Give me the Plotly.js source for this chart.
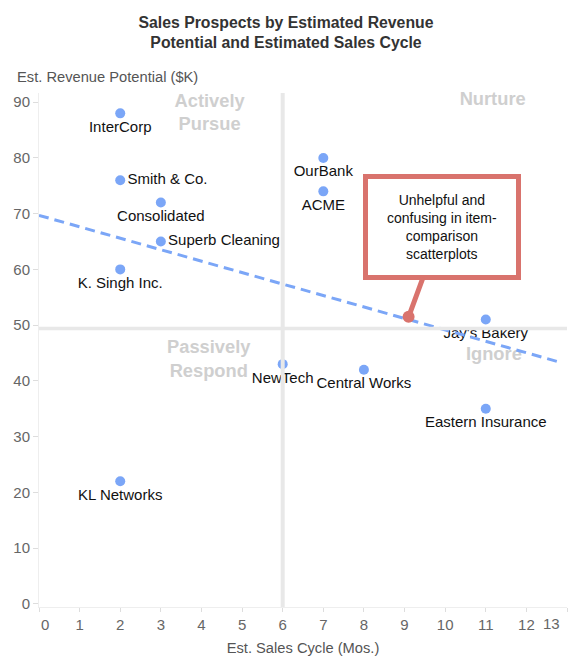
<!DOCTYPE html>
<html>
<head>
<meta charset="utf-8">
<script src="https://cdn.plot.ly/plotly-3.0.1.min.js"></script>
<style>
  html, body { margin: 0; padding: 0; background: #fff; }
  #chart { width: 572px; height: 657px; }
</style>
</head>
<body>
<div id="chart"></div>
<script>
// ---- Data ----
const prospects = ['InterCorp', 'Smith & Co.', 'Consolidated', 'Superb Cleaning', 'K. Singh Inc.', 'KL Networks',
                   'OurBank', 'ACME', 'NewTech', 'Central Works', "Jay's Bakery", 'Eastern Insurance'];
const salesCycle = [2, 2, 3, 3, 2, 2, 7, 7, 6, 8, 11, 11];
const revenuePotential = [88, 76, 72, 65, 60, 22, 80, 74, 43, 42, 51, 35];
const labelPositions = ['bottom center', 'middle right', 'bottom center', 'middle right', 'bottom center', 'bottom center',
                        'bottom center', 'bottom center', 'bottom center', 'bottom center', 'bottom center', 'bottom center'];

const trendX = [0, 12.75];
const trendY = [69.7, 43.5];

const quadrantLabels = ['Actively<br>Pursue', 'Nurture', 'Passively<br>Respond', 'Ignore'];
const quadrantLabelX = [4.2, 11.17, 4.18, 11.2];
const quadrantLabelY = [87.9, 90.4, 43.7, 44.6];

const splitX = 6;
const splitY = 49.4;

const xTicks = [0, 1, 2, 3, 4, 5, 6, 7, 8, 9, 10, 11, 12, 13];
const xTickLabels = ['0', '1', '2', '3', '4', '5', '6', '7', '8', '9', '10', '11', '12', '13'];
const yTicks = [0, 10, 20, 30, 40, 50, 60, 70, 80, 90];

const calloutText = 'Unhelpful and<br>confusing in item-<br>comparison<br>scatterplots';
const calloutPoint = [9.1, 51.5];

// ---- Styles ----
const FONT = 'Liberation Sans, Arial, sans-serif';
const BLUE = '#7ba6f7';
const GRID = '#e8e8e8';
const RED = '#d9736d';
const TICKFONT = { family: FONT, size: 15, color: '#666' };

// first label nudged right, last label drawn separately so it stays inside the chart (as in the original)
const lastIdx = xTicks.length - 1;
const axisTickText = xTickLabels.map((t, i) => i === 0 ? '\u00a0\u00a0\u00a0' + t : (i === lastIdx ? '' : t));

const traces = [
  {
    type: 'scatter', mode: 'text',
    x: quadrantLabelX, y: quadrantLabelY, text: quadrantLabels,
    textfont: { family: FONT, size: 18.3, color: '#cfcfcf', weight: 'bold' },
    textposition: 'middle center',
    hoverinfo: 'skip', showlegend: false, cliponaxis: false
  },
  {
    type: 'scatter', mode: 'markers+text',
    x: salesCycle, y: revenuePotential, text: prospects,
    textposition: labelPositions,
    textfont: { family: FONT, size: 15, color: '#111' },
    marker: { size: 10, color: BLUE },
    showlegend: false, cliponaxis: false
  },
  {
    type: 'scatter', mode: 'lines',
    x: trendX, y: trendY,
    line: { color: BLUE, width: 3, dash: '10px,6px' },
    hoverinfo: 'skip', showlegend: false
  }
];

const layout = {
  width: 572, height: 657,
  margin: { l: 39, r: 5, t: 93, b: 50 },
  paper_bgcolor: '#fff', plot_bgcolor: '#fff',
  font: { family: FONT, size: 14, color: '#555' },
  showlegend: false,
  title: {
    text: '<b>Sales Prospects by Estimated Revenue<br>Potential and Estimated Sales Cycle</b>',
    font: { family: FONT, size: 15.8, color: '#333' },
    x: 0.5, xref: 'container', xanchor: 'center',
    y: 0.958, yref: 'container', yanchor: 'middle'
  },
  xaxis: {
    range: [0, 13], tickvals: xTicks, ticktext: axisTickText,
    showgrid: false, zeroline: false,
    showline: true, linecolor: '#eeeeee', linewidth: 1,
    ticks: 'outside', ticklen: 4, tickcolor: '#dddddd',
    tickfont: TICKFONT,
    title: { text: 'Est. Sales Cycle (Mos.)', font: { family: FONT, size: 14.7, color: '#555' }, standoff: 10 }
  },
  yaxis: {
    range: [-0.57, 91.65], tickvals: yTicks,
    showgrid: false, zeroline: false,
    showline: true, linecolor: '#eeeeee', linewidth: 1,
    ticks: 'outside', ticklen: 5, tickcolor: '#dddddd',
    tickfont: TICKFONT
  },
  shapes: [
    { type: 'line', layer: 'above', xref: 'x', yref: 'paper', x0: splitX, x1: splitX, y0: 0, y1: 1,
      line: { color: GRID, width: 4 } },
    { type: 'line', layer: 'above', xref: 'x', yref: 'y', x0: 0, x1: 13, y0: splitY, y1: splitY,
      line: { color: GRID, width: 3.5 } }
  ],
  annotations: [
    {
      text: 'Est. Revenue Potential ($K)', showarrow: false,
      xref: 'paper', yref: 'paper', x: -0.046, y: 1.011, xanchor: 'left', yanchor: 'bottom',
      font: { family: FONT, size: 14.7, color: '#555' }
    },
    {
      text: xTickLabels[lastIdx], showarrow: false,
      xref: 'x', yref: 'paper', x: xTicks[lastIdx], y: 0, xanchor: 'right', yanchor: 'top',
      xshift: -5, yshift: -6, font: TICKFONT
    },
    {
      text: calloutText,
      x: calloutPoint[0], y: calloutPoint[1], xref: 'x', yref: 'y',
      showarrow: true, ax: 33, ay: -90,
      arrowcolor: RED, arrowwidth: 5, arrowhead: 6, arrowsize: 0.6, standoff: 0,
      bordercolor: RED, borderwidth: 5, borderpad: 4, bgcolor: '#ffffff',
      width: 140, height: 88, align: 'center', valign: 'middle',
      font: { family: FONT, size: 14, color: '#111' }
    }
  ]
};

Plotly.newPlot('chart', traces, layout, { displayModeBar: false, staticPlot: true });
</script>
</body>
</html>
